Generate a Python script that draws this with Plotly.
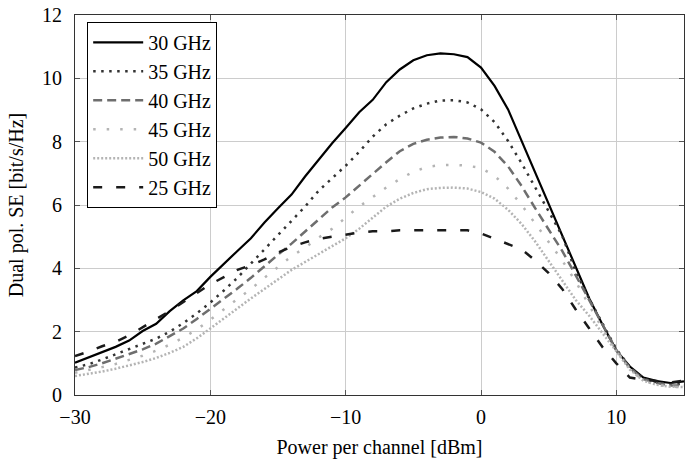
import plotly.graph_objects as go

# Launch power per channel [dBm]
power_dbm = list(range(-30, 16))

# Dual-polarisation spectral efficiency [bit/s/Hz] per channel spacing
se_30ghz = [1.02, 1.18, 1.34, 1.52, 1.72, 2.02, 2.25, 2.65, 2.99, 3.28,
            3.73, 4.15, 4.55, 4.95, 5.45, 5.90, 6.33, 6.90, 7.42, 7.95,
            8.43, 8.93, 9.32, 9.88, 10.28, 10.57, 10.73, 10.79, 10.76, 10.67,
            10.34, 9.76, 9.02, 8.03, 7.03, 6.03, 5.07, 4.05, 3.05, 2.20,
            1.41, 0.90, 0.55, 0.44, 0.38, 0.43]
se_35ghz = [0.87, 0.97, 1.12, 1.28, 1.44, 1.60, 1.78, 2.00, 2.27, 2.58,
            2.92, 3.30, 3.70, 4.15, 4.60, 5.05, 5.50, 5.95, 6.45, 6.85,
            7.24, 7.68, 8.16, 8.55, 8.82, 9.05, 9.20, 9.30, 9.31, 9.24,
            9.02, 8.62, 8.02, 7.32, 6.58, 5.80, 5.03, 3.90, 3.03, 2.25,
            1.45, 0.88, 0.52, 0.40, 0.33, 0.35]
se_40ghz = [0.79, 0.88, 1.00, 1.14, 1.28, 1.44, 1.62, 1.85, 2.10, 2.40,
            2.72, 3.03, 3.36, 3.70, 4.05, 4.43, 4.78, 5.17, 5.55, 5.92,
            6.24, 6.62, 7.00, 7.35, 7.70, 7.93, 8.06, 8.13, 8.15, 8.10,
            7.97, 7.68, 7.22, 6.60, 5.90, 5.22, 4.55, 3.78, 2.98, 2.18,
            1.42, 0.85, 0.50, 0.38, 0.30, 0.30]
se_45ghz = [0.70, 0.78, 0.88, 0.98, 1.10, 1.24, 1.40, 1.59, 1.81, 2.07,
            2.38, 2.70, 3.02, 3.35, 3.70, 4.05, 4.38, 4.65, 4.97, 5.25,
            5.60, 5.95, 6.25, 6.55, 6.82, 7.05, 7.20, 7.26, 7.27, 7.24,
            7.17, 6.92, 6.52, 6.00, 5.42, 4.85, 4.25, 3.58, 2.85, 2.08,
            1.40, 0.82, 0.45, 0.33, 0.26, 0.25]
se_50ghz = [0.60, 0.66, 0.74, 0.83, 0.93, 1.04, 1.17, 1.33, 1.52, 1.79,
            2.10, 2.42, 2.74, 3.05, 3.35, 3.65, 3.95, 4.20, 4.45, 4.70,
            4.95, 5.25, 5.60, 5.95, 6.20, 6.38, 6.50, 6.54, 6.55, 6.52,
            6.41, 6.20, 5.85, 5.40, 4.85, 4.22, 3.60, 3.00, 2.50, 1.95,
            1.38, 0.80, 0.45, 0.32, 0.26, 0.25]
se_25ghz = [1.23, 1.37, 1.54, 1.68, 1.88, 2.15, 2.40, 2.65, 2.93, 3.20,
            3.50, 3.72, 3.95, 4.10, 4.28, 4.50, 4.68, 4.82, 4.93, 5.00,
            5.07, 5.13, 5.17, 5.17, 5.20, 5.20, 5.20, 5.22, 5.22, 5.20,
            5.10, 4.93, 4.78, 4.60, 4.25, 3.85, 3.35, 2.70, 2.10, 1.50,
            1.00, 0.55, 0.48, 0.43, 0.40, 0.45]

series = [
    ("30 GHz", se_30ghz, "#000000", "solid", 2.2),
    ("35 GHz", se_35ghz, "#333333", "2.5px,5.5px", 2.5),
    ("40 GHz", se_40ghz, "#6e6e6e", "9px,5px", 2.5),
    ("45 GHz", se_45ghz, "#b4b4b4", "2.5px,11px", 2.5),
    ("50 GHz", se_50ghz, "#b4b4b4", "2px,2px", 2.5),
    ("25 GHz", se_25ghz, "#1a1a1a", "9px,14px", 2.5),
]

fig = go.Figure()
for name, values, color, dash, width in series:
    fig.add_trace(go.Scatter(
        x=power_dbm, y=values, mode="lines", name=name,
        line=dict(color=color, dash=dash, width=width),
    ))

serif = "Liberation Serif, Times New Roman, serif"
axis_common = dict(
    showgrid=True, gridcolor="#cccccc", gridwidth=1,
    showline=True, linecolor="#333333", linewidth=1.2, mirror="ticks",
    ticks="inside", ticklen=5, tickcolor="#555555", tickwidth=1,
    zeroline=False,
    tickfont=dict(family=serif, size=20, color="#000000"),
)

fig.update_layout(
    width=688, height=460,
    margin=dict(l=75, r=4, t=15, b=65),
    paper_bgcolor="white", plot_bgcolor="white",
    font=dict(family=serif, size=20, color="#000000"),
    showlegend=True,
    legend=dict(
        x=0.02, y=0.982, xanchor="left", yanchor="top",
        bgcolor="white", bordercolor="#000000", borderwidth=1,
        font=dict(family=serif, size=20),
        itemwidth=50, tracegroupgap=0,
    ),
    xaxis=dict(
        range=[-30, 15], tickvals=[-30, -20, -10, 0, 10],
        ticklabelstandoff=4,
        title=dict(text="Power per channel [dBm]", standoff=12,
                   font=dict(family=serif, size=20)),
        **axis_common,
    ),
    yaxis=dict(
        range=[0, 12], tickvals=[0, 2, 4, 6, 8, 10, 12],
        ticklabelstandoff=8,
        title=dict(text="Dual pol. SE [bit/s/Hz]", standoff=12,
                   font=dict(family=serif, size=20)),
        **axis_common,
    ),
)

fig.write_html("out.html")
